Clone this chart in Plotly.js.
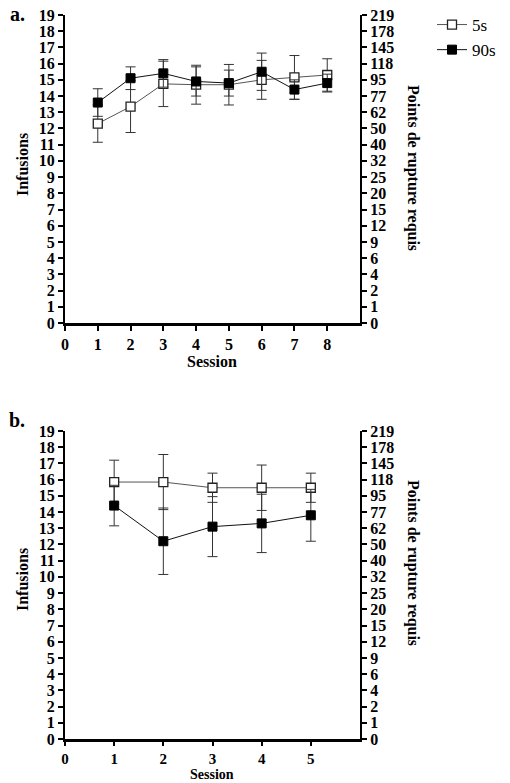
<!DOCTYPE html>
<html>
<head>
<meta charset="utf-8">
<script src="https://cdn.plot.ly/plotly-3.0.1.min.js"></script>
<style>
  html, body { margin: 0; padding: 0; background: #fff; }
  #chart { width: 510px; height: 783px; }
</style>
</head>
<body>
<div id="chart"></div>
<script>
// Panel a: eight sessions, 5 s vs 90 s delay (mean infusions ± SEM)
const sessionsA = [1, 2, 3, 4, 5, 6, 7, 8];
const a5s      = [12.3, 13.35, 14.75, 14.7, 14.7, 15.0, 15.15, 15.3];
const a5sErr   = [1.15, 1.6, 1.4, 1.2, 1.25, 1.2, 1.35, 1.0];
const a90s     = [13.6, 15.1, 15.4, 14.9, 14.8, 15.5, 14.4, 14.8];
const a90sErr  = [0.85, 0.7, 0.85, 0.9, 0.8, 1.15, 0.6, 0.55];

// Panel b: five sessions
const sessionsB = [1, 2, 3, 4, 5];
const b5s      = [15.85, 15.85, 15.5, 15.5, 15.5];
const b5sErr   = [1.35, 1.7, 0.9, 1.4, 0.9];
const b90s     = [14.4, 12.2, 13.1, 13.3, 13.8];
const b90sErr  = [1.25, 2.05, 1.85, 1.8, 1.6];

// Axis ticks
const sessionTicksA = [0, 1, 2, 3, 4, 5, 6, 7, 8];
const sessionTicksB = [0, 1, 2, 3, 4, 5];
const infusionTicks = [0, 1, 2, 3, 4, 5, 6, 7, 8, 9, 10, 11, 12, 13, 14, 15, 16, 17, 18, 19];
// Progressive-ratio breakpoint required for each infusion count
const breakpointLabels = ['0', '1', '2', '4', '6', '9', '12', '15', '20', '25', '32',
                          '40', '50', '62', '77', '95', '118', '145', '178', '219'];

const W = 510, H = 783;
const SERIF = 'Liberation Serif, Times New Roman, serif';
const boldFont = (size) => ({ family: SERIF, size: size, color: '#000', weight: 'bold' });

const px = (x) => x / W;
const py = (y) => 1 - y / H;

const plotX = [px(65), px(360)];
const domA = [py(323), py(15)];
const domB = [py(739), py(431)];

function errBar(arr) {
  return { type: 'data', array: arr, visible: true, color: '#333', thickness: 1, width: 5 };
}
function openSeries(x, y, err, xa, ya, legend) {
  return {
    x: x, y: y, xaxis: xa, yaxis: ya, name: '5s', type: 'scatter', mode: 'lines+markers',
    showlegend: legend, legendgroup: '5s',
    line: { color: '#555', width: 1 },
    marker: { symbol: 'square', size: 9, color: '#fff', line: { color: '#222', width: 1.3 } },
    error_y: errBar(err), cliponaxis: false
  };
}
function filledSeries(x, y, err, xa, ya, legend) {
  return {
    x: x, y: y, xaxis: xa, yaxis: ya, name: '90s', type: 'scatter', mode: 'lines+markers',
    showlegend: legend, legendgroup: '90s',
    line: { color: '#111', width: 1 },
    marker: { symbol: 'square', size: 9, color: '#000', line: { color: '#000', width: 1 } },
    error_y: errBar(err), cliponaxis: false
  };
}

const traces = [
  openSeries(sessionsA, a5s, a5sErr, 'x', 'y', true),
  filledSeries(sessionsA, a90s, a90sErr, 'x', 'y', true),
  openSeries(sessionsB, b5s, b5sErr, 'x2', 'y3', false),
  filledSeries(sessionsB, b90s, b90sErr, 'x2', 'y3', false),
  // empty traces so the right-hand breakpoint axes are built
  { x: [], y: [], xaxis: 'x', yaxis: 'y2', showlegend: false, hoverinfo: 'skip' },
  { x: [], y: [], xaxis: 'x2', yaxis: 'y4', showlegend: false, hoverinfo: 'skip' }
];

function xAxis(range, ticks, anchor, fontSize, tickLen) {
  return {
    domain: plotX, anchor: anchor, range: range, tickvals: ticks,
    showline: true, linecolor: '#000', linewidth: 2.5, mirror: false,
    ticks: 'outside', ticklen: tickLen, tickwidth: 2, tickcolor: '#000',
    showgrid: false, zeroline: false, tickfont: boldFont(fontSize), fixedrange: true
  };
}
function yAxis(dom, anchor) {
  return {
    domain: dom, anchor: anchor, range: [0, 19], tickvals: infusionTicks,
    showline: true, linecolor: '#000', linewidth: 2, ticks: 'outside', ticklen: 5,
    tickwidth: 2, tickcolor: '#000', showgrid: false, zeroline: false,
    tickfont: boldFont(16), fixedrange: true
  };
}
function yRight(over, anchor) {
  return {
    overlaying: over, anchor: anchor, side: 'right', range: [0, 19],
    tickvals: infusionTicks, ticktext: breakpointLabels,
    showline: true, linecolor: '#000', linewidth: 2, ticks: 'outside', ticklen: 5,
    tickwidth: 2, tickcolor: '#000', showgrid: false, zeroline: false,
    tickfont: boldFont(16), fixedrange: true
  };
}

function label(text, x, y, size, angle, yanchor) {
  return {
    text: text, xref: 'paper', yref: 'paper', x: px(x), y: py(y),
    xanchor: 'center', yanchor: yanchor || 'middle', showarrow: false,
    textangle: angle || 0, borderpad: 0, font: boldFont(size)
  };
}

const layout = {
  width: W, height: H,
  margin: { l: 0, r: 0, t: 0, b: 0 },
  paper_bgcolor: '#fff', plot_bgcolor: 'rgba(0,0,0,0)',
  showlegend: true,
  legend: {
    x: px(432), y: py(7), xanchor: 'left', yanchor: 'top',
    font: { family: SERIF, size: 17, color: '#000' },
    bgcolor: 'rgba(0,0,0,0)', itemwidth: 30, tracegroupgap: 0
  },
  xaxis: xAxis([0, 9], sessionTicksA, 'y', 16, 5),
  yaxis: yAxis(domA, 'x'),
  yaxis2: yRight('y', 'x'),
  xaxis2: xAxis([0, 6], sessionTicksB, 'y3', 15, 4),
  yaxis3: yAxis(domB, 'x2'),
  yaxis4: yRight('y3', 'x2'),
  annotations: [
    label('a.', 17, 14, 20),
    label('b.', 17, 420, 20),
    label('Infusions', 22, 165, 16, -90),
    label('Infusions', 22, 580, 16, -90),
    label('Session', 212, 361, 16),
    label('Session', 212, 783, 14, 0, 'bottom'),
    label('Points de rupture requis', 413, 168, 16, 90),
    label('Points de rupture requis', 413, 563, 16, 90)
  ]
};

Plotly.newPlot('chart', traces, layout, { displayModeBar: false, staticPlot: true });
</script>
</body>
</html>
